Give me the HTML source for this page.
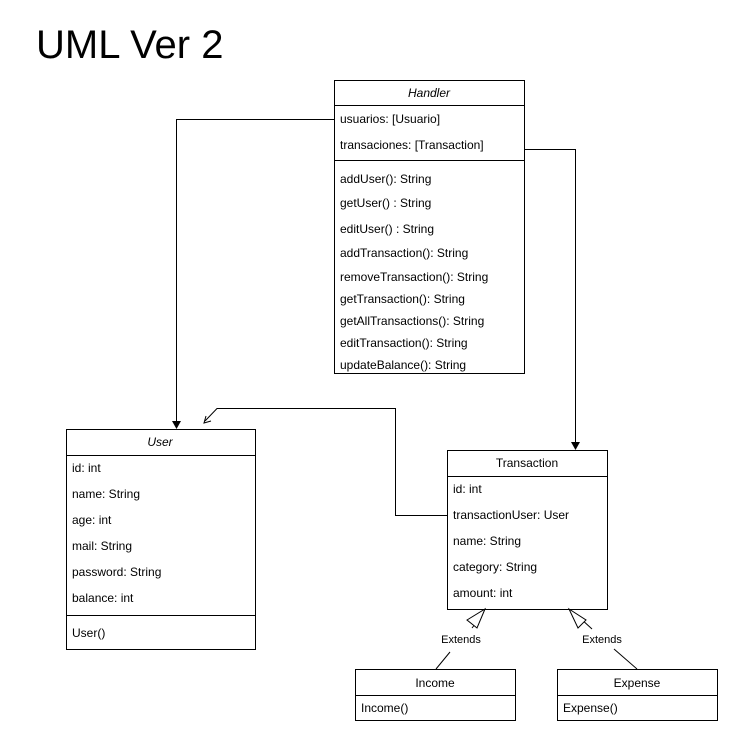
<!DOCTYPE html>
<html><head><meta charset="utf-8"><style>
html,body{margin:0;padding:0;background:#fff;}
svg text{font-family:"Liberation Sans",Arial,sans-serif;font-size:12px;fill:#000;}
</style></head><body>
<svg width="738" height="744" xmlns="http://www.w3.org/2000/svg">
<text x="36" y="58" style="font-size:40px">UML Ver 2</text>
<g fill="none" stroke="#000" stroke-width="1">
<!-- Handler -->
<rect x="334.5" y="80.5" width="190" height="293"/>
<line x1="334" y1="105.5" x2="524" y2="105.5"/>
<line x1="334" y1="160.5" x2="524" y2="160.5"/>
<!-- User -->
<rect x="66.5" y="429.5" width="189" height="220"/>
<line x1="66" y1="455.5" x2="255" y2="455.5"/>
<line x1="66" y1="615.5" x2="255" y2="615.5"/>
<!-- Transaction -->
<rect x="447.5" y="450.5" width="160" height="159"/>
<line x1="447" y1="476.5" x2="607" y2="476.5"/>
<!-- Income -->
<rect x="355.5" y="669.5" width="160" height="51"/>
<line x1="355" y1="695.5" x2="515" y2="695.5"/>
<!-- Expense -->
<rect x="557.5" y="669.5" width="160" height="51"/>
<line x1="557" y1="695.5" x2="717" y2="695.5"/>
<!-- connectors -->
<polyline points="334,119.5 176.5,119.5 176.5,422"/>
<polyline points="524,149.5 575.5,149.5 575.5,443"/>
<polyline points="447,515.5 395.5,515.5 395.5,408.5 217,408.5 205,421"/>
<polyline points="211,421 204,423 206,416"/>
<!-- extends -->
<line x1="436" y1="669" x2="450" y2="652"/>
<line x1="472" y1="628" x2="480" y2="618"/>
<polygon points="485,609 477,628 467,620" fill="#fff"/>
<line x1="637" y1="669" x2="614" y2="649"/>
<line x1="592" y1="629" x2="580" y2="618"/>
<polygon points="569,609 586,620 578,628" fill="#fff"/>
</g>
<polygon points="172,421 181,421 176.5,429" fill="#000"/>
<polygon points="571,442 580,442 575.5,450" fill="#000"/>
<text x="429" y="97" text-anchor="middle" font-style="italic">Handler</text>
<text x="340" y="123">usuarios: [Usuario]</text>
<text x="340" y="149">transaciones: [Transaction]</text>
<text x="340" y="183">addUser(): String</text>
<text x="340" y="207">getUser() : String</text>
<text x="340" y="233">editUser() : String</text>
<text x="340" y="257">addTransaction(): String</text>
<text x="340" y="281">removeTransaction(): String</text>
<text x="340" y="303">getTransaction(): String</text>
<text x="340" y="325">getAllTransactions(): String</text>
<text x="340" y="347">editTransaction(): String</text>
<text x="340" y="369">updateBalance(): String</text>
<text x="160" y="446" text-anchor="middle" font-style="italic">User</text>
<text x="72" y="472">id: int</text>
<text x="72" y="498">name: String</text>
<text x="72" y="524">age: int</text>
<text x="72" y="550">mail: String</text>
<text x="72" y="576">password: String</text>
<text x="72" y="602">balance: int</text>
<text x="72" y="637">User()</text>
<text x="527" y="467" text-anchor="middle">Transaction</text>
<text x="453" y="493">id: int</text>
<text x="453" y="519">transactionUser: User</text>
<text x="453" y="545">name: String</text>
<text x="453" y="571">category: String</text>
<text x="453" y="597">amount: int</text>
<text x="435" y="687" text-anchor="middle">Income</text>
<text x="361" y="712">Income()</text>
<text x="637" y="687" text-anchor="middle">Expense</text>
<text x="563" y="712">Expense()</text>
<text x="461" y="643" text-anchor="middle" style="font-size:11px">Extends</text>
<text x="602" y="643" text-anchor="middle" style="font-size:11px">Extends</text>
</svg>
</body></html>
